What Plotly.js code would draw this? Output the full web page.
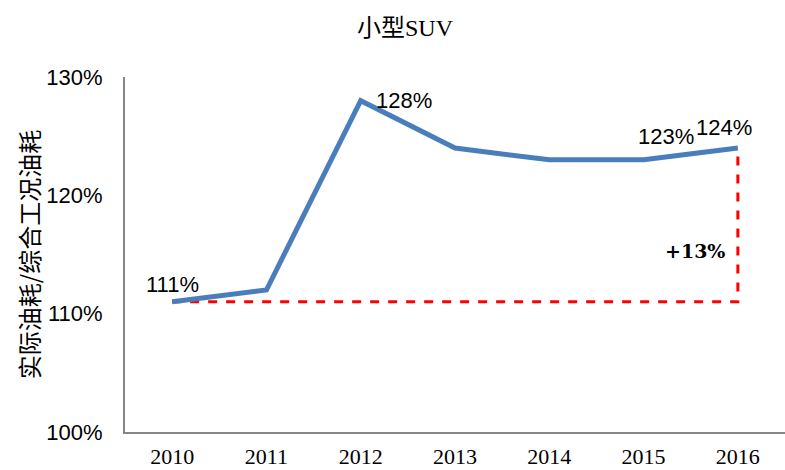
<!DOCTYPE html>
<html>
<head>
<meta charset="utf-8">
<script src="https://cdn.plot.ly/plotly-3.0.1.min.js"></script>
<style>html,body{margin:0;padding:0;background:#fff;}#chart{width:785px;height:470px;}</style>
</head>
<body>
<div id="chart"></div>
<script>
const years = ["2010", "2011", "2012", "2013", "2014", "2015", "2016"];
const ratio = [111, 112, 128, 124, 123, 123, 124];
const dataLabels = ["111%", "", "128%", "", "", "123%", "124%"];
const refX = ["2010", "2016", "2016"];
const refY = [111, 111, 124];
const gainLabel = "+13%";
const yTicks = [100, 110, 120, 130];
const yTickText = ["100%", "110%", "120%", "130%"];

const labelFont = {family: "Liberation Sans, Arial, sans-serif", size: 22, color: "#000"};
const labelPos = {
  "111%": {xanchor: "center", yanchor: "bottom", xshift: 0, yshift: 3},
  "128%": {xanchor: "left", yanchor: "middle", xshift: 13, yshift: 0},
  "123%": {xanchor: "center", yanchor: "bottom", xshift: 22, yshift: 9},
  "124%": {xanchor: "center", yanchor: "bottom", xshift: -14, yshift: 6}
};
const annotations = [];
for (let i = 0; i < years.length; i++) {
  const t = dataLabels[i];
  if (!t) continue;
  const p = labelPos[t];
  annotations.push({x: i, y: ratio[i], xref: "x", yref: "y", text: t, showarrow: false,
    xanchor: p.xanchor, yanchor: p.yanchor, xshift: p.xshift, yshift: p.yshift, font: labelFont});
}
annotations.push({x: years.indexOf(refX[2]), y: (refY[1] + refY[2]) / 2 - 2.2, xref: "x", yref: "y", text: "<b>" + gainLabel + "</b>",
  showarrow: false, xanchor: "right", yanchor: "middle", xshift: -11,
  font: {family: "DejaVu Serif, serif", size: 19, color: "#000"}});

const traces = [
  {x: refX, y: refY, type: "scatter", mode: "lines", hoverinfo: "skip",
   line: {color: "#ff0000", width: 3, dash: "dash"}},
  {x: years, y: ratio, type: "scatter", mode: "lines", hoverinfo: "skip",
   line: {color: "#4a7ebb", width: 5}}
];

const layout = {
  width: 785, height: 470,
  margin: {l: 125, r: 0, t: 77, b: 38},
  paper_bgcolor: "#fff", plot_bgcolor: "#fff",
  showlegend: false,
  title: {text: "小型SUV", x: 405 / 785, xanchor: "center", y: 1 - 28 / 470, yanchor: "middle", yref: "container",
    font: {family: "Liberation Serif, Noto Sans CJK SC, serif", size: 24, color: "#000"}},
  xaxis: {type: "category", categoryorder: "array", categoryarray: years, range: [-0.5, 6.5],
    showgrid: false, zeroline: false,
    showline: true, linecolor: "#868686", linewidth: 2, ticks: "", ticklabelstandoff: 4,
    tickfont: {family: "Liberation Serif, DejaVu Serif, serif", size: 22, color: "#000"}},
  yaxis: {range: [100, 130], tickvals: yTicks, ticktext: yTickText, showgrid: false, zeroline: false,
    showline: true, linecolor: "#868686", linewidth: 2, ticks: "", ticklabelstandoff: 16,
    tickfont: {family: "Liberation Sans, Arial, sans-serif", size: 22, color: "#000"},
    title: {text: "实际油耗/综合工况油耗", standoff: 0,
      font: {family: "Noto Sans CJK SC, sans-serif", size: 24, color: "#000"}}},
  annotations: annotations
};

Plotly.newPlot("chart", traces, layout, {displayModeBar: false, staticPlot: true});
</script>
</body>
</html>
